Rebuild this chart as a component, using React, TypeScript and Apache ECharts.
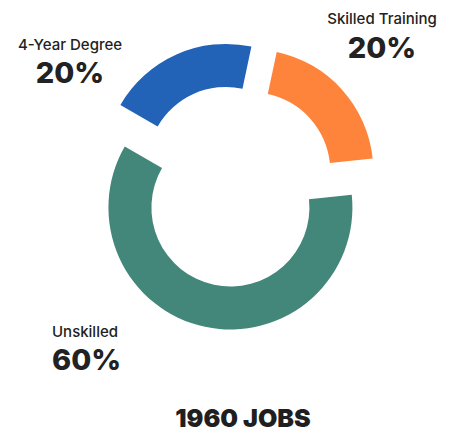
import React, { useEffect, useRef } from "react";
import * as echarts from "echarts";

const categories = ["4-Year Degree", "Skilled Training", "Unskilled"];
const values = [20, 20, 60];
const colors = ["#2263B7", "#FE843B", "#43877A"];
const titleText = "1960 JOBS";

// label anchor positions (layout only): x, name middle y, percent middle y
const labelAnchors = [
  { x: 70, nameY: 44, pctY: 72, align: "center" },
  { x: 382, nameY: 18, pctY: 47, align: "center" },
  { x: 52, nameY: 331, pctY: 359, align: "left" },
];

export default function App() {
  const ref = useRef<HTMLDivElement>(null);
  useEffect(() => {
    if (!ref.current) return;
    const chart = echarts.init(ref.current, undefined, { renderer: "svg" });
    const total = values.reduce((a, b) => a + b, 0);
    const data = categories.map((name, i) => ({
      name,
      value: values[i],
      selected: true,
      itemStyle: { color: colors[i] },
      select: { itemStyle: { color: colors[i] } },
    }));
    const labels: any[] = [];
    categories.forEach((name, i) => {
      const a = labelAnchors[i];
      labels.push({
        type: "text",
        x: a.x,
        y: a.nameY,
        silent: true,
        style: {
          text: name,
          textAlign: a.align,
          textVerticalAlign: "middle",
          font: "500 15px Inter",
          fill: "#222222",
        },
      });
      labels.push({
        type: "text",
        x: a.x,
        y: a.pctY,
        silent: true,
        style: {
          text: Math.round((values[i] / total) * 100) + "%",
          textAlign: a.align,
          textVerticalAlign: "middle",
          font: "800 29px Inter",
          fill: "#222222",
        },
      });
    });
    chart.setOption({
      animation: false,
      backgroundColor: "#ffffff",
      title: {
        text: titleText,
        left: 238,
        top: 400,
        textAlign: "center",
        textStyle: {
          fontFamily: "Inter",
          fontWeight: 900,
          fontSize: 25,
          color: "#1f1f1f",
        },
      },
      graphic: labels,
      series: [
        {
          type: "pie",
          center: [235, 186],
          radius: [79, 122],
          startAngle: 150,
          clockwise: true,
          selectedMode: "multiple",
          selectedOffset: 22,
          avoidLabelOverlap: false,
          silent: true,
          data,
          label: { show: false },
          labelLine: { show: false },
        },
      ],
    });
    return () => chart.dispose();
  }, []);
  return (
    <div
      ref={ref}
      style={{ position: "fixed", left: 0, top: 0, width: 455, height: 433 }}
    />
  );
}
